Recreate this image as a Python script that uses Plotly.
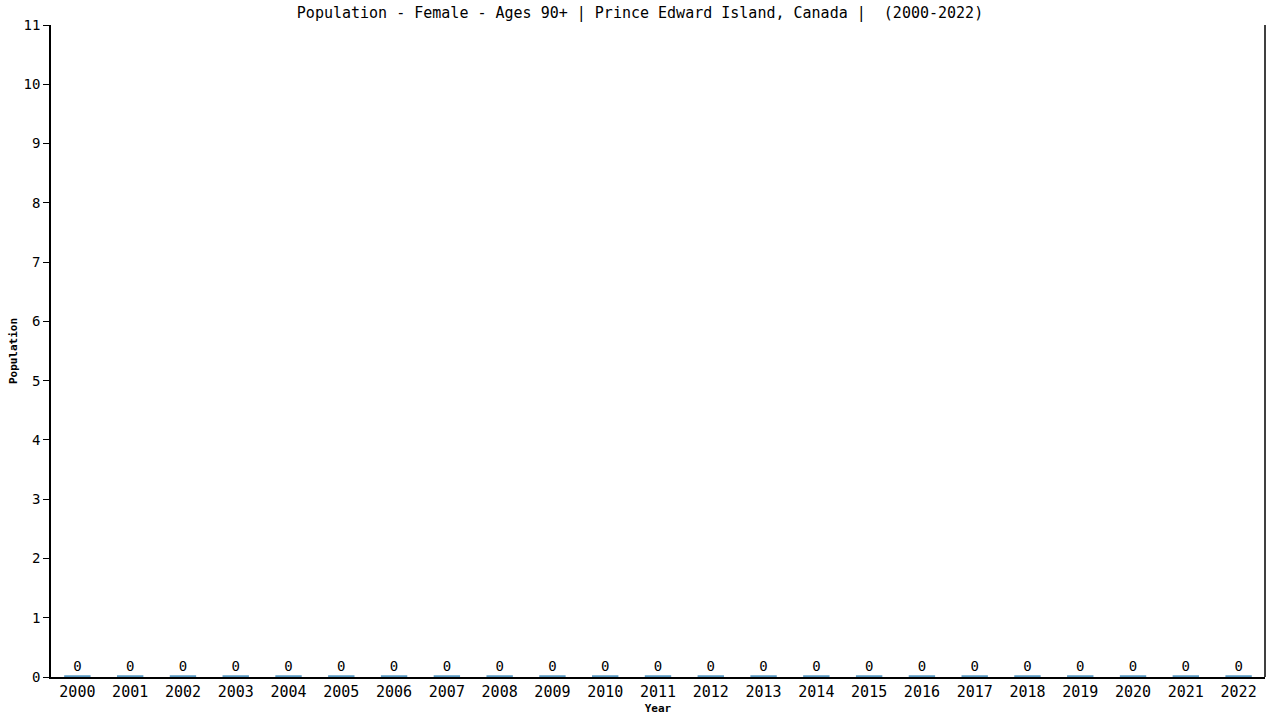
import plotly.graph_objects as go

years = [str(y) for y in range(2000, 2023)]
population = [0] * len(years)
labels = [str(v) for v in population]

y_ticks = list(range(0, 12))

mono = "DejaVu Sans Mono"

fig = go.Figure()
fig.add_trace(go.Bar(
    x=years,
    y=population,
    text=labels,
    textposition="outside",
    textfont=dict(family=mono, size=14, color="black"),
    cliponaxis=False,
    width=0.5,
    marker=dict(color="#5a9ac4", line=dict(color="#5a9ac4", width=3.5)),
))

# right-hand frame line (no top line in the original)
fig.add_shape(type="line", xref="paper", yref="paper", x0=1, x1=1, y0=0, y1=1,
              line=dict(color="black", width=1.5))

fig.update_layout(
    width=1280, height=720,
    margin=dict(l=51, r=15, t=25, b=43),
    paper_bgcolor="white", plot_bgcolor="white",
    showlegend=False,
    font=dict(family=mono, size=14, color="black"),
    title=dict(text="Population - Female - Ages 90+ | Prince Edward Island, Canada |  (2000-2022)",
               x=0.5, xanchor="center", yref="container", y=1 - 13 / 720, yanchor="middle",
               font=dict(family=mono, size=15, color="black")),
    xaxis=dict(
        type="category", automargin=False,
        showline=True, linecolor="black", linewidth=1.5,
        ticks="", showgrid=False,
        tickfont=dict(family=mono, size=15),
        title=dict(text="<b>Year</b>", font=dict(family=mono, size=11), standoff=5),
    ),
    yaxis=dict(
        range=[0, 11], tickvals=y_ticks, automargin=False,
        showline=True, linecolor="black", linewidth=1.5,
        ticks="outside", ticklen=6, tickcolor="black",
        showgrid=False, zeroline=False,
        tickfont=dict(family=mono, size=14),
        title=dict(text="<b>Population</b>", font=dict(family=mono, size=11), standoff=4),
    ),
)

# drop the browser's default page margin so the 1280x720 figure fills the window
fig.write_html("out.html", config={"displayModeBar": False},
               post_script="document.body.style.margin='0';")
